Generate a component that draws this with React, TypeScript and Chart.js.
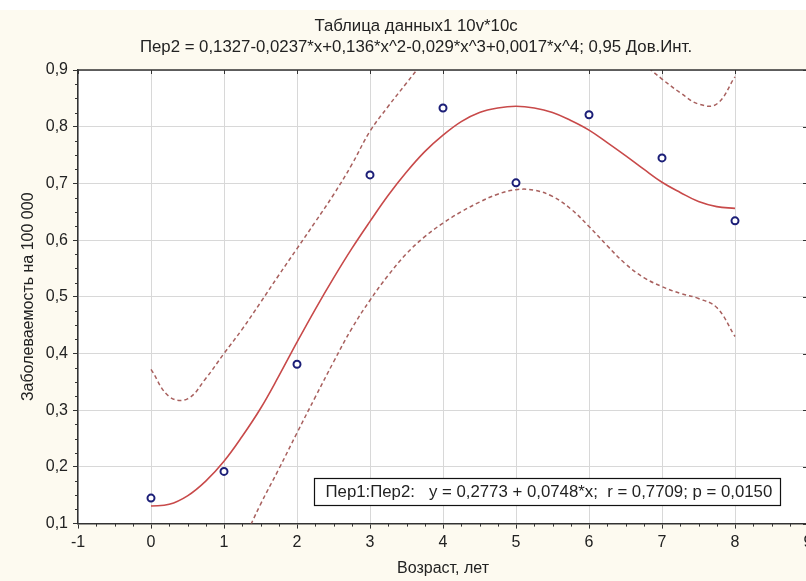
import React, { useEffect, useRef } from 'react';
import { Chart, registerables } from 'chart.js';

Chart.register(...registerables);

// ---- data ----
const ages = [0, 1, 2, 3, 4, 5, 6, 7, 8];
const incidence = [0.145, 0.192, 0.381, 0.715, 0.833, 0.701, 0.821, 0.745, 0.634];

const fitX = [0, 0.25, 0.5, 0.75, 1, 1.25, 1.5, 1.75, 2, 2.25, 2.5, 2.75, 3, 3.25, 3.5, 3.75, 4,
  4.25, 4.5, 4.75, 5, 5.25, 5.5, 5.75, 6, 6.25, 6.5, 6.75, 7, 7.25, 7.5, 7.75, 8];
const fitY = [0.131, 0.134, 0.149, 0.175, 0.210, 0.254, 0.303, 0.360, 0.420, 0.478, 0.533, 0.585, 0.633,
  0.679, 0.720, 0.756, 0.785, 0.809, 0.825, 0.833, 0.836, 0.833, 0.825, 0.811, 0.794, 0.772, 0.749,
  0.725, 0.702, 0.684, 0.668, 0.659, 0.656];
const upperY = [0.372, 0.324, 0.320, 0.356, 0.400, 0.443, 0.490, 0.538, 0.585, 0.632, 0.680, 0.733, 0.792,
  0.836, 0.877, 0.918, null, null, null, null, null, null, null, null, null, null, null,
  0.911, 0.884, 0.860, 0.840, 0.840, 0.888];
const lowerY = [null, null, null, null, null, 0.065, 0.134, 0.196, 0.260, 0.323, 0.385, 0.444, 0.494,
  0.538, 0.576, 0.606, 0.630, 0.650, 0.667, 0.681, 0.689, 0.688, 0.677, 0.655, 0.624, 0.590, 0.558,
  0.534, 0.518, 0.506, 0.497, 0.481, 0.430];

const xTickValues = [-1, 0, 1, 2, 3, 4, 5, 6, 7, 8, 9];
const xTickLabels = ['-1', '0', '1', '2', '3', '4', '5', '6', '7', '8', '9'];
const yTickValues = [0.1, 0.2, 0.3, 0.4, 0.5, 0.6, 0.7, 0.8, 0.9];
const yTickLabels = ['0,1', '0,2', '0,3', '0,4', '0,5', '0,6', '0,7', '0,8', '0,9'];

const titleLines = [
  'Таблица данных1 10v*10c',
  'Пер2 = 0,1327-0,0237*x+0,136*x^2-0,029*x^3+0,0017*x^4; 0,95 Дов.Инт.',
];
const xAxisTitle = 'Возраст, лет';
const yAxisTitle = 'Заболеваемость на 100 000';
const regressionText = 'Пер1:Пер2:   y = 0,2773 + 0,0748*x;  r = 0,7709; p = 0,0150';

// ---- styles ----
const FONT_FAMILY = '"Liberation Sans", Arial, sans-serif';
const FONT_SIZE = 16;
const TITLE_SIZE = 16.8;
const TEXT_COLOR = '#222222';
const CREAM = 'rgb(253,250,240)';
const AXIS_COLOR = '#333333';
const GRID_COLOR = '#d8d8d8';
const FIT_COLOR = '#c84a4a';
const CI_COLOR = '#a8605e';
const POINT_COLOR = '#1c1f78';

const decorPlugin = {
  id: 'decor',
  beforeDraw(chart: any) {
    const { ctx, chartArea: ca, width, height } = chart;
    ctx.save();
    ctx.fillStyle = CREAM;
    ctx.fillRect(0, 0, width, height);
    ctx.fillStyle = '#ffffff';
    ctx.fillRect(ca.left, ca.top, ca.right - ca.left, ca.bottom - ca.top);
    ctx.restore();
  },
  afterDraw(chart: any) {
    const { ctx, chartArea: ca } = chart;
    const xs = chart.scales.x;
    const ys = chart.scales.y;
    ctx.save();
    // titles
    ctx.fillStyle = TEXT_COLOR;
    ctx.font = `${TITLE_SIZE}px ${FONT_FAMILY}`;
    ctx.textAlign = 'center';
    ctx.textBaseline = 'middle';
    const cx = 416;
    titleLines.forEach((t, i) => ctx.fillText(t, cx, 16 + i * 21));

    // top and right borders
    ctx.strokeStyle = AXIS_COLOR;
    ctx.lineWidth = 1.5;
    ctx.beginPath();
    ctx.moveTo(ca.left, ca.top);
    ctx.lineTo(ca.right, ca.top);
    ctx.lineTo(ca.right, ca.bottom);
    ctx.stroke();

    // minor ticks
    ctx.lineWidth = 1;
    ctx.beginPath();
    for (let v = -1; v <= 9.001; v += 0.25) {
      if (Math.abs(v - Math.round(v)) < 1e-6) continue;
      const px = Math.round(xs.getPixelForValue(v)) + 0.5;
      ctx.moveTo(px, ca.bottom);
      ctx.lineTo(px, ca.bottom + 3);
    }
    for (let v = 0.1; v <= 0.9001; v += 0.025) {
      const r = Math.round(v * 10) / 10;
      if (Math.abs(v - r) < 1e-6) continue;
      const py = Math.round(ys.getPixelForValue(v)) + 0.5;
      ctx.moveTo(ca.left, py);
      ctx.lineTo(ca.left - 3, py);
    }
    // inward major ticks on top and right
    xTickValues.forEach((v) => {
      const px = Math.round(xs.getPixelForValue(v)) + 0.5;
      ctx.moveTo(px, ca.top);
      ctx.lineTo(px, ca.top + 4);
    });
    yTickValues.forEach((v) => {
      const py = Math.round(ys.getPixelForValue(v)) + 0.5;
      ctx.moveTo(ca.right, py);
      ctx.lineTo(ca.right - 5, py);
    });
    ctx.stroke();

    // regression text box
    ctx.font = `${TITLE_SIZE}px ${FONT_FAMILY}`;
    const tw = ctx.measureText(regressionText).width;
    const bx = Math.round(ca.left + 236) + 0.5;
    const bh = 27;
    const by = Math.round(ca.bottom - 46) + 0.5;
    const bw = Math.round(tw + 19);
    ctx.fillStyle = '#ffffff';
    ctx.fillRect(bx, by, bw, bh);
    ctx.strokeStyle = '#111111';
    ctx.lineWidth = 1.2;
    ctx.strokeRect(bx, by, bw, bh);
    ctx.fillStyle = TEXT_COLOR;
    ctx.textAlign = 'left';
    ctx.textBaseline = 'middle';
    ctx.fillText(regressionText, bx + 11, by + bh / 2 + 0.5);
    ctx.restore();
  },
};

export default function App() {
  const ref = useRef<HTMLCanvasElement>(null);

  useEffect(() => {
    const canvas = ref.current;
    if (!canvas) return;
    const font = { family: FONT_FAMILY, size: FONT_SIZE };
    const toPts = (ys: (number | null)[]) => fitX.map((x, i) => ({ x, y: ys[i] }));

    const lineBase = {
      showLine: true,
      pointRadius: 0,
      tension: 0.4,
      spanGaps: false,
      clip: 0,
    };

    const chart = new Chart(canvas, {
      type: 'scatter',
      data: {
        datasets: [
          {
            ...lineBase,
            label: 'upper',
            data: toPts(upperY) as any,
            borderColor: CI_COLOR,
            borderWidth: 1.5,
            borderDash: [4, 3],
          } as any,
          {
            ...lineBase,
            label: 'lower',
            data: toPts(lowerY) as any,
            borderColor: CI_COLOR,
            borderWidth: 1.5,
            borderDash: [4, 3],
          } as any,
          {
            ...lineBase,
            label: 'fit',
            data: toPts(fitY) as any,
            borderColor: FIT_COLOR,
            borderWidth: 1.6,
          } as any,
          {
            label: 'data',
            data: ages.map((x, i) => ({ x, y: incidence[i] })),
            showLine: false,
            pointRadius: 3.5,
            pointBorderWidth: 2,
            pointBorderColor: POINT_COLOR,
            pointBackgroundColor: '#ffffff',
            clip: 4,
          } as any,
        ],
      },
      options: {
        responsive: false,
        animation: false,
        events: [],
        layout: { padding: { top: 60, right: 24, left: 0, bottom: 0 } },
        plugins: {
          legend: { display: false },
          tooltip: { enabled: false },
          title: { display: false },
        },
        scales: {
          x: {
            type: 'linear',
            min: -1,
            max: 9,
            afterFit: (s: any) => { s.height = 57.4; },
            afterBuildTicks: (s: any) => { s.ticks = xTickValues.map((v) => ({ value: v })); },
            ticks: {
              callback: (_v: any, i: number) => xTickLabels[i],
              font,
              color: TEXT_COLOR,
              padding: 4,
              maxRotation: 0,
              autoSkip: false,
            },
            grid: { color: GRID_COLOR, lineWidth: 1, tickColor: AXIS_COLOR, tickLength: 5, tickWidth: 1 },
            border: { display: true, color: AXIS_COLOR, width: 1.5 },
            title: { display: true, text: xAxisTitle, font, color: TEXT_COLOR, padding: { top: 0, bottom: 2.4 } },
          },
          y: {
            type: 'linear',
            min: 0.1,
            max: 0.9,
            afterFit: (s: any) => { s.width = 78; },
            afterBuildTicks: (s: any) => { s.ticks = yTickValues.map((v) => ({ value: v })); },
            ticks: {
              callback: (_v: any, i: number) => yTickLabels[i],
              font,
              color: TEXT_COLOR,
              padding: 5,
              autoSkip: false,
            },
            grid: { color: GRID_COLOR, lineWidth: 1, tickColor: AXIS_COLOR, tickLength: 5, tickWidth: 1 },
            border: { display: true, color: AXIS_COLOR, width: 1.5 },
            title: { display: true, text: yAxisTitle, font, color: TEXT_COLOR, padding: { top: 19.4, bottom: 0 } },
          },
        },
      } as any,
      plugins: [decorPlugin],
    });
    return () => chart.destroy();
  }, []);

  return (
    <div
      style={{
        position: 'fixed',
        left: 0,
        top: 0,
        width: 806,
        height: 581,
        overflow: 'hidden',
        background: '#ffffff',
      }}
    >
      <canvas
        ref={ref}
        width={832}
        height={571}
        style={{ position: 'absolute', left: 0, top: 10, width: 832, height: 571, display: 'block' }}
      />
    </div>
  );
}
